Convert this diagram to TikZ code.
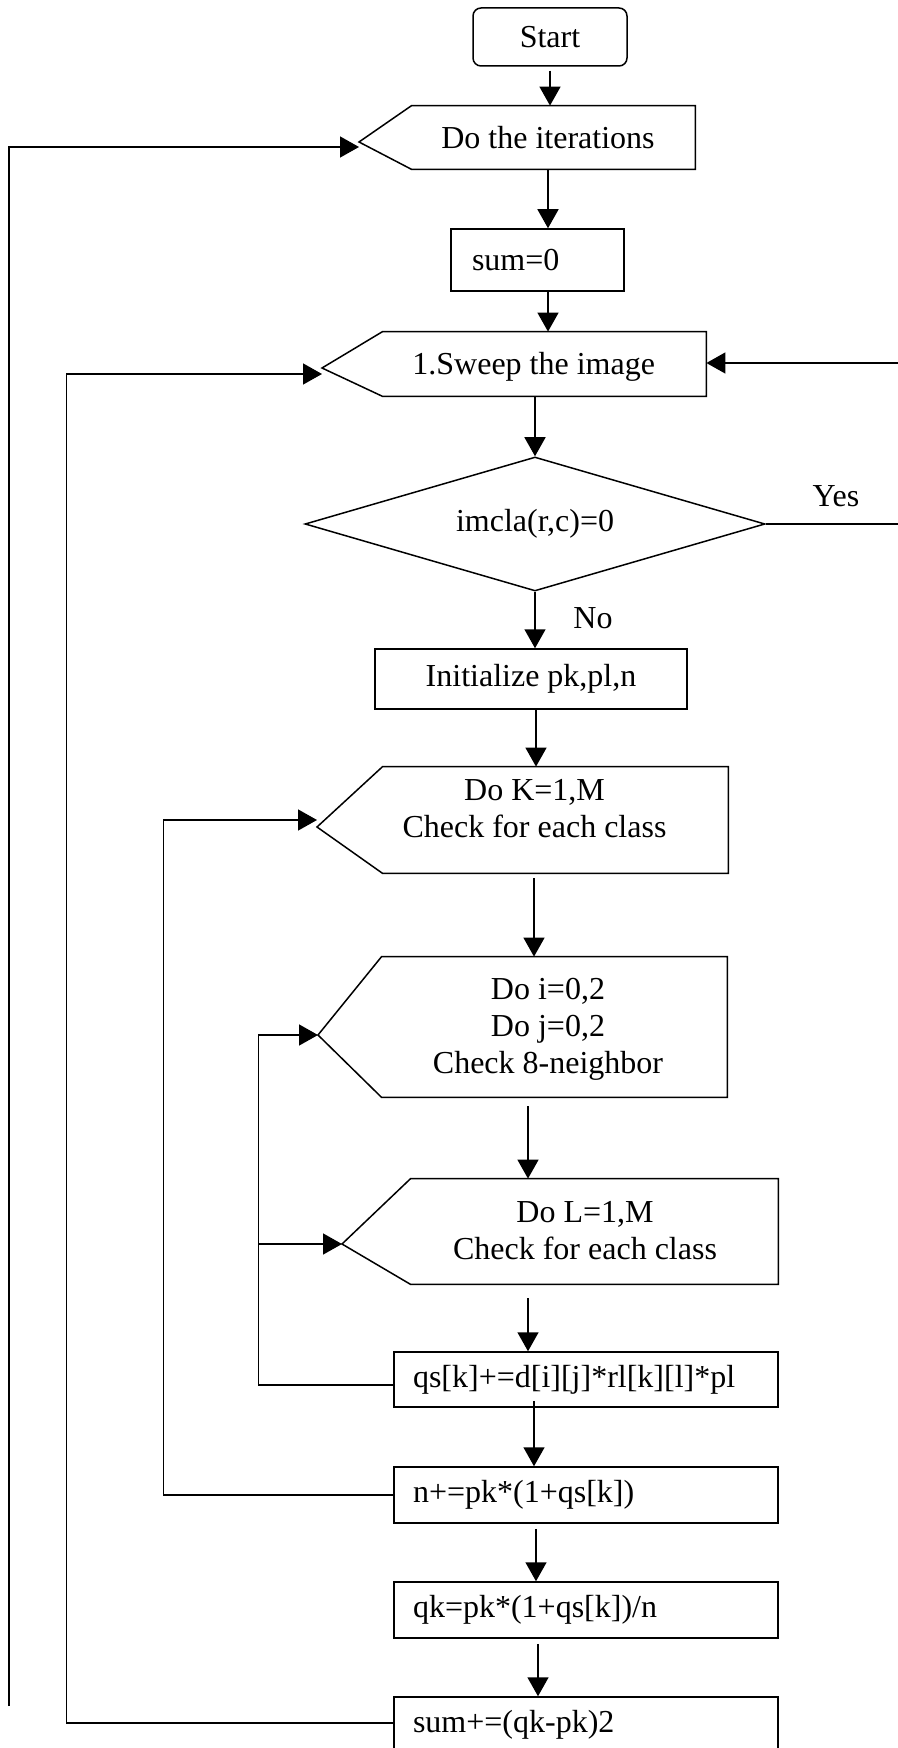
\documentclass[tikz,border=0pt]{standalone}
\usepackage{fontspec}
\setmainfont{Liberation Serif}
\usetikzlibrary{arrows.meta,shapes.geometric}
\begin{document}
\begin{tikzpicture}[x=0.5pt,y=-0.5pt,
  every node/.style={font=\fontsize{16pt}{18.5pt}\selectfont},
  line/.style={line width=0.75pt},
  arr/.style={line, -{Triangle[length=9.5pt,width=10.5pt]}},
  box/.style={draw, line width=0.75pt, rectangle, inner sep=0pt},
  lbox/.style={box, align=left, inner xsep=9.5pt, text width=173pt, minimum height=28pt},
  frame/.style={draw=none, rectangle, inner sep=0pt},
  txt/.style={inner sep=0pt, align=center}
]
\useasboundingbox (0,0) rectangle (898,1748);
\clip (0,0) rectangle (898,1748);

% start
\node[box, rounded corners=4pt, minimum width=77pt, minimum height=29pt] (start) at (550,37) {Start};

% outer iteration loop head
\node[frame, minimum width=141.5pt, minimum height=31.5pt] (iter) at (553.5,137.5) {};
\coordinate (iter-tip) at (359,142);
\draw[line] (iter-tip) -- (iter.north west) -- (iter.north east) -- (iter.south east) -- (iter.south west) -- cycle;
\node[txt] (iter-text) at (548,138) {Do the iterations};

% sum reset
\node[box, align=left, inner xsep=10.5pt, text width=65.5pt, minimum height=31pt] (sum0) at (537.5,260) {sum=0};

% image sweep loop head
\node[frame, minimum width=161.5pt, minimum height=32pt] (sweep) at (544.5,364) {};
\coordinate (sweep-tip) at (322,368);
\draw[line] (sweep-tip) -- (sweep.north west) -- (sweep.north east) -- (sweep.south east) -- (sweep.south west) -- cycle;
\node[txt, anchor=base west] (sweep-text) at (412,375) {1.Sweep the image};

% decision
\node[draw, line, diamond, shape aspect=3.4, minimum width=230pt, minimum height=67pt, inner sep=0pt] (dec) at (535,524) {imcla(r,c)=0};
\node[txt] (yes) at (836,496) {Yes};
\node[txt] (no) at (593,618) {No};

% initialisation
\node[box, minimum width=156pt, minimum height=30pt] (init) at (531,679) {Initialize pk,pl,n};

% class loop head
\node[frame, minimum width=172.5pt, minimum height=53pt] (dok) at (555.5,820) {};
\coordinate (dok-tip) at (317,827);
\draw[line] (dok-tip) -- (dok.north west) -- (dok.north east) -- (dok.south east) -- (dok.south west) -- cycle;
\node[txt] (dok-text) at (534.5,808.5) {Do K=1,M\\Check for each class};

% neighbour loop head
\node[frame, minimum width=172.5pt, minimum height=70pt] (doi) at (554.5,1027) {};
\coordinate (doi-tip) at (318,1035);
\draw[line] (doi-tip) -- (doi.north west) -- (doi.north east) -- (doi.south east) -- (doi.south west) -- cycle;
\node[txt] (doi-text) at (548,1029) {Do i=0,2\\Do j=0,2\\Check 8-neighbor};

% inner class loop head
\node[frame, minimum width=183.5pt, minimum height=52.5pt] (dol) at (594.5,1231.5) {};
\coordinate (dol-tip) at (342,1244);
\draw[line] (dol-tip) -- (dol.north west) -- (dol.north east) -- (dol.south east) -- (dol.south west) -- cycle;
\node[txt] (dol-text) at (585,1230.5) {Do L=1,M\\Check for each class};

% computation boxes
\node[lbox, minimum height=27.5pt] (qs) at (586,1379.5) {qs[k]+=d[i][j]*rl[k][l]*pl};
\node[lbox] (nbox) at (586,1495) {n+=pk*(1+qs[k])};
\node[lbox] (qk) at (586,1610) {qk=pk*(1+qs[k])/n};
\node[lbox] (sumb) at (586,1725) {sum+=(qk-pk)2};

% main flow
\draw[arr] ([yshift=-2pt]start.south) coordinate (c1) -- (c1 |- iter.north);
\draw[arr] ([xshift=-2.75pt]iter.south) coordinate (c2) -- (c2 |- sum0.north);
\draw[arr] ([xshift=5.25pt]sum0.south) coordinate (c3) -- (c3 |- sweep.north);
\draw[arr] (sweep.south -| dec.north) -- (dec.north);
\draw[arr] (dec.south) -- (dec.south |- init.north);
\draw[arr] ([xshift=2.5pt]init.south) coordinate (c6) -- (c6 |- dok.north);
\draw[arr] ([xshift=-10.75pt,yshift=-2.5pt]dok.south) coordinate (c7) -- (c7 |- doi.north);
\draw[arr] ([xshift=-13.25pt,yshift=-4.5pt]doi.south) coordinate (c8) -- (c8 |- dol.north);
\draw[arr] ([xshift=-33.25pt,yshift=-7pt]dol.south) coordinate (c9) -- (c9 |- qs.north);
\draw[arr] ([xshift=-26pt,yshift=3.5pt]qs.south) coordinate (c10) -- (c10 |- nbox.north);
\draw[arr] ([xshift=-25pt,yshift=-2.5pt]nbox.south) coordinate (c11) -- (c11 |- qk.north);
\draw[arr] ([xshift=-24pt,yshift=-2.5pt]qk.south) coordinate (c12) -- (c12 |- sumb.north);

% loop-back connectors
\coordinate (outer-end) at (9,1706);
\draw[arr] (outer-end) |- ([yshift=-2.5pt]iter-tip);
\draw[arr] ([yshift=1pt]sumb.west) -- ++(-327,0) |- ([yshift=-3pt]sweep-tip);
\draw[arr] (nbox.west) -- ++(-230,0) |- ([yshift=3.5pt]dok-tip);
\draw[arr] ([yshift=-2.75pt]qs.west) -- ++(-135,0) coordinate (jrail) |- (doi-tip);
\draw[arr] (jrail |- dol-tip) -- (dol-tip);
\draw[arr] (dec.east) -- ++(160,0) |- ([yshift=0.5pt]sweep.east);
\end{tikzpicture}
\end{document}
